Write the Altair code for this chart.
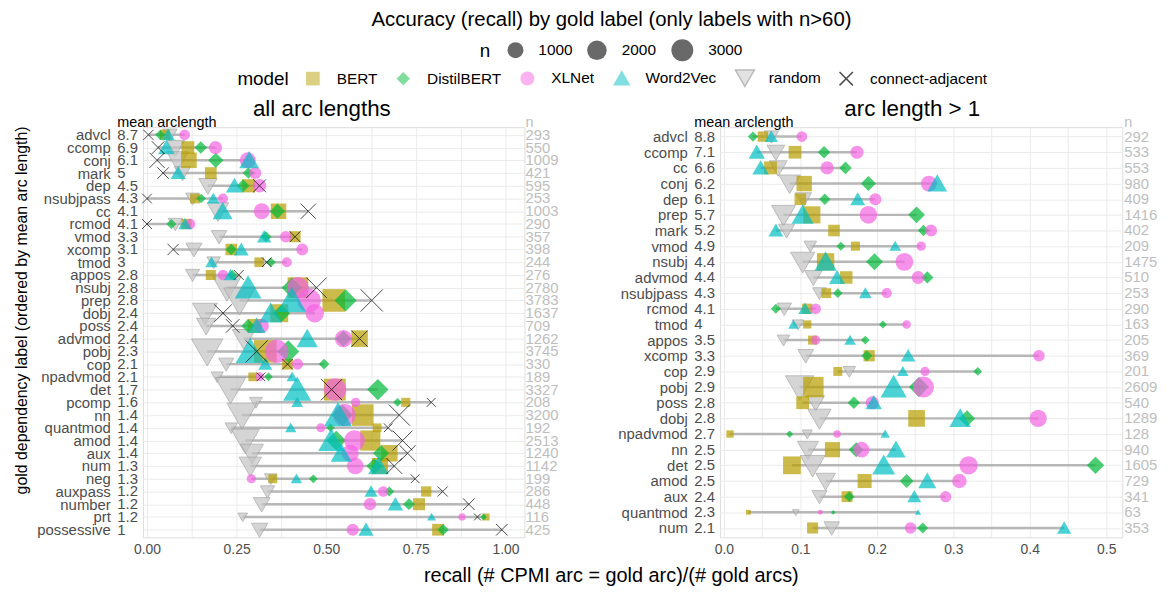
import altair as alt
import pandas as pd

MODELS = ["BERT", "DistilBERT", "XLNet", "Word2Vec", "random", "connect-adjacent"]
DRAW_ORDER = ["random", "BERT", "DistilBERT", "XLNet", "Word2Vec", "connect-adjacent"]

# ---------------- left panel: all arc lengths ----------------
left_labels = ["advcl", "ccomp", "conj", "mark", "dep", "nsubjpass", "cc", "rcmod", "vmod", "xcomp",
               "tmod", "appos", "nsubj", "prep", "dobj", "poss", "advmod", "pobj", "cop", "npadvmod",
               "det", "pcomp", "nn", "quantmod", "amod", "aux", "num", "neg", "auxpass", "number",
               "prt", "possessive"]
left_arclen = [8.7, 6.9, 6.1, 5, 4.5, 4.3, 4.1, 4.1, 3.3, 3.1, 3, 2.8, 2.8, 2.8, 2.4, 2.4, 2.4, 2.3,
               2.1, 2.1, 1.7, 1.6, 1.4, 1.4, 1.4, 1.4, 1.3, 1.3, 1.2, 1.2, 1.2, 1]
left_n = [293, 550, 1009, 421, 595, 253, 1003, 290, 357, 398, 244, 276, 2780, 3783, 1637, 709, 1262,
          3745, 330, 189, 3327, 208, 3200, 192, 2513, 1240, 1142, 199, 286, 448, 116, 425]
left_bert = [0.050, 0.114, 0.117, 0.178, 0.284, 0.134, 0.367, 0.110, 0.413, 0.235, 0.313, 0.178,
             0.421, 0.521, 0.369, 0.300, 0.593, 0.330, 0.392, 0.295, 0.524, 0.722, 0.602, 0.642,
             0.623, 0.676, 0.650, 0.351, 0.779, 0.759, 0.946, 0.812]
left_distilbert = [0.037, 0.150, 0.192, 0.283, 0.268, 0.151, 0.364, 0.068, 0.332, 0.235, 0.346, 0.238,
                   0.404, 0.554, 0.375, 0.282, 0.548, 0.394, 0.494, 0.339, 0.644, 0.699, 0.545, 0.512,
                   0.528, 0.653, 0.634, 0.464, 0.676, 0.731, 0.939, 0.826]
left_xlnet = [0.105, 0.191, 0.281, 0.302, 0.314, 0.212, 0.320, 0.120, 0.387, 0.433, 0.390, 0.212,
              0.421, 0.452, 0.468, 0.320, 0.548, 0.362, 0.420, 0.314, 0.525, 0.582, 0.551, 0.485,
              0.579, 0.567, 0.581, 0.291, 0.659, 0.622, 0.879, 0.574]
left_word2vec = [0.059, 0.054, 0.285, 0.087, 0.244, 0.185, 0.211, 0.106, 0.327, 0.263, 0.180, 0.233,
                 0.282, 0.404, 0.345, 0.306, 0.447, 0.288, 0.330, 0.405, 0.419, 0.419, 0.533, 0.401,
                 0.514, 0.542, 0.646, 0.417, 0.625, 0.693, 0.794, 0.611]
left_random = [0.064, 0.080, 0.085, 0.099, 0.170, 0.127, 0.198, 0.079, 0.201, 0.131, 0.186, 0.127,
               0.223, 0.258, 0.162, 0.165, 0.270, 0.168, 0.221, 0.196, 0.233, 0.304, 0.265, 0.235,
               0.274, 0.293, 0.288, 0.345, 0.336, 0.320, 0.267, 0.314]
left_adjacent = [0.004, 0.031, 0.028, 0.045, 0.314, 0.000, 0.450, 0.000, 0.413, 0.073, 0.334, 0.256,
                 0.473, 0.627, 0.212, 0.239, 0.593, 0.306, 0.392, 0.318, 0.515, 0.793, 0.704, 0.673,
                 0.713, 0.727, 0.690, 0.748, 0.825, 0.898, 0.922, 0.990]

# ---------------- right panel: arc length > 1 ----------------
right_labels = ["advcl", "ccomp", "cc", "conj", "dep", "prep", "mark", "vmod", "nsubj", "advmod",
                "nsubjpass", "rcmod", "tmod", "appos", "xcomp", "cop", "pobj", "poss", "dobj",
                "npadvmod", "nn", "det", "amod", "aux", "quantmod", "num"]
right_arclen = [8.8, 7.1, 6.6, 6.2, 6.1, 5.7, 5.2, 4.9, 4.4, 4.4, 4.3, 4.1, 4, 3.5, 3.3, 2.9, 2.9,
                2.8, 2.8, 2.7, 2.5, 2.5, 2.5, 2.4, 2.3, 2.1]
right_n = [292, 533, 553, 980, 409, 1416, 402, 209, 1475, 510, 253, 290, 163, 205, 369, 201, 2609,
           540, 1289, 128, 940, 1605, 729, 341, 63, 353]
right_bert = [0.051, 0.093, 0.061, 0.105, 0.100, 0.115, 0.144, 0.172, 0.133, 0.160, 0.134, 0.109,
              0.109, 0.116, 0.190, 0.149, 0.117, 0.103, 0.252, 0.008, 0.142, 0.089, 0.184, 0.161,
              0.032, 0.116]
right_distilbert = [0.038, 0.131, 0.159, 0.189, 0.132, 0.252, 0.261, 0.153, 0.197, 0.266, 0.149,
                    0.068, 0.208, 0.185, 0.187, 0.332, 0.255, 0.170, 0.318, 0.086, 0.173, 0.486,
                    0.239, 0.164, 0.143, 0.260]
right_xlnet = [0.102, 0.174, 0.135, 0.268, 0.198, 0.189, 0.271, 0.258, 0.236, 0.254, 0.213, 0.120,
               0.239, 0.120, 0.412, 0.263, 0.261, 0.194, 0.411, 0.148, 0.180, 0.320, 0.308, 0.290,
               0.126, 0.244]
right_word2vec = [0.062, 0.043, 0.048, 0.279, 0.175, 0.103, 0.068, 0.224, 0.133, 0.148, 0.185, 0.106,
                  0.091, 0.165, 0.241, 0.234, 0.222, 0.196, 0.309, 0.211, 0.225, 0.209, 0.266, 0.249,
                  0.254, 0.445]
right_random = [0.062, 0.068, 0.071, 0.086, 0.104, 0.078, 0.082, 0.113, 0.103, 0.117, 0.125, 0.079,
                0.097, 0.078, 0.107, 0.164, 0.099, 0.120, 0.125, 0.109, 0.110, 0.116, 0.133, 0.125,
                0.094, 0.141]

# ---------------- styling ----------------
FONT = "Liberation Sans"
shape_range = [
    "M-0.97,-0.97L0.97,-0.97L0.97,0.97L-0.97,0.97Z",          # BERT square
    "M0,-0.95L0.95,0L0,0.95L-0.95,0Z",                        # DistilBERT diamond
    "circle",                                                 # XLNet
    "M0,-1.17L1.25,1.0L-1.25,1.0Z",                           # Word2Vec triangle up
    "M0,1.26L1.35,-1.07L-1.35,-1.07Z",                        # random triangle down
    "M-0.95,-0.95L0.95,0.95M0.95,-0.95L-0.95,0.95",           # connect-adjacent X
]
fill_range = ["#B79F00", "#00BA38", "#F564E3", "#00BFC4", "#C4C4C4", "#000000"]
stroke_range = ["transparent", "transparent", "transparent", "transparent", "#9E9E9E", "#000000"]
opacity_range = [0.7, 0.7, 0.6, 0.6, 0.55, 0.7]


def long_table(labels, n, series):
    rows = []
    for m in DRAW_ORDER:
        if m not in series:
            continue
        for lab, nn, v in zip(labels, n, series[m]):
            rows.append({"label": lab, "model": m, "recall": v, "n": nn})
    return pd.DataFrame(rows)


def panel(labels, arclen, n, series, xdomain, width, ticks, label_test, fmt, title, title_dx,
          n_x, ytitle, xtitle):
    df = long_table(labels, n, series)
    lab_df = pd.DataFrame({"label": labels, "arclen": arclen, "n": n})
    yscale = alt.Scale(type="point", domain=labels, padding=0.6)
    xscale = alt.Scale(domain=xdomain, nice=False, zero=False)
    yaxis = alt.Axis(
        title=ytitle, labelFontSize=15, labelColor="#4D4D4D", labelPadding=33, ticks=False,
        domain=False, grid=True, gridColor="#EBEBEB", gridWidth=1, titleFontSize=16,
        titleFontWeight="normal", titleColor="#000000", titleX=-114, titleY=184,
    )
    xaxis = alt.Axis(
        title=xtitle, values=ticks, labelExpr=f"({label_test}) ? format(datum.value, '{fmt}') : ''",
        labelFontSize=14, labelColor="#4D4D4D", labelPadding=5, labelFlush=False, ticks=False,
        domain=False, grid=True, gridColor="#EBEBEB", gridWidth=1, titleFontSize=20,
        titleFontWeight="normal", titleColor="#000000", titleX=471, titleY=28,
    )
    y = alt.Y("label:N", scale=yscale, axis=yaxis)

    rule = alt.Chart(df).mark_rule(color="#ABABAB", strokeWidth=2.5, opacity=0.85).encode(
        y=y,
        x=alt.X("min(recall):Q", scale=xscale, axis=xaxis),
        x2="max(recall):Q",
    )
    pts = alt.Chart(df).mark_point(filled=True, strokeWidth=1).encode(
        y=y,
        x=alt.X("recall:Q", scale=xscale, axis=xaxis),
        shape=alt.Shape("model:N", scale=alt.Scale(domain=MODELS, range=shape_range),
                        legend=alt.Legend(title="model", orient="none", legendX=95, legendY=-58,
                                          direction="horizontal", titleOrient="left",
                                          symbolSize=200, labelFontSize=15.5, titleFontSize=19,
                                          titleFontWeight="normal", labelOffset=16,
                                          columnPadding=15, titlePadding=16)),
        fill=alt.Fill("model:N", scale=alt.Scale(domain=MODELS, range=fill_range), title="model"),
        stroke=alt.Stroke("model:N", scale=alt.Scale(domain=MODELS, range=stroke_range), title="model"),
        opacity=alt.Opacity("model:N", scale=alt.Scale(domain=MODELS, range=opacity_range), title="model"),
        size=alt.Size("n:Q", scale=alt.Scale(type="sqrt", domain=[63, 3783], range=[25, 552], zero=False),
                      legend=alt.Legend(title="n", orient="none", legendX=339, legendY=-90,
                                        direction="horizontal", titleOrient="left", values=[1000, 2000, 3000],
                                        format="d",
                                        symbolType="circle", symbolFillColor="#444444", symbolOpacity=0.8,
                                        symbolStrokeColor="transparent", labelFontSize=15.5, titleFontSize=19,
                                        titleFontWeight="normal", labelOffset=14, columnPadding=11,
                                        titlePadding=16)),
    )
    arc_txt = alt.Chart(lab_df).mark_text(align="left", baseline="middle", fontSize=15,
                                          color="#4D4D4D", font=FONT).encode(
        y=y, x=alt.value(-26), text="arclen:N")
    n_txt = alt.Chart(lab_df).mark_text(align="left", baseline="middle", fontSize=15,
                                        color="#BEBEBE", font=FONT).encode(
        y=y, x=alt.value(n_x), text="n:N")
    head1 = alt.Chart(pd.DataFrame({"t": ["mean arclength"]})).mark_text(
        align="left", baseline="middle", fontSize=14.5, color="#000000", font=FONT).encode(
        x=alt.value(-26), y=alt.value(-4), text="t:N")
    head2 = alt.Chart(pd.DataFrame({"t": ["n"]})).mark_text(
        align="left", baseline="middle", fontSize=14.5, color="#BEBEBE", font=FONT).encode(
        x=alt.value(n_x), y=alt.value(-4), text="t:N")
    return alt.layer(rule, pts, arc_txt, n_txt, head1, head2).properties(
        width=width, height=413,
        title=alt.TitleParams(title, fontSize=22.5, fontWeight="normal", anchor="middle", dx=title_dx,
                              offset=-5, color="#000000"),
    )


left = panel(
    left_labels, left_arclen, left_n,
    {"BERT": left_bert, "DistilBERT": left_distilbert, "XLNet": left_xlnet, "Word2Vec": left_word2vec,
     "random": left_random, "connect-adjacent": left_adjacent},
    [-0.011, 1.053], 384, [i * 0.125 for i in range(9)], "round(datum.value*1000) % 250 == 0", ".2f",
    "all arc lengths", -12, 385,
    "gold dependency label (ordered by mean arc length)", "recall (# CPMI arc = gold arc)/(# gold arcs)",
)
right = panel(
    right_labels, right_arclen, right_n,
    {"BERT": right_bert, "DistilBERT": right_distilbert, "XLNet": right_xlnet,
     "Word2Vec": right_word2vec, "random": right_random},
    [-0.005, 0.521], 405, [i * 0.05 for i in range(11)], "round(datum.value*1000) % 100 == 0", ".1f",
    "arc length > 1", -9, 407, None, None,
)

chart = alt.hconcat(left, right, spacing=197, bounds="flush").resolve_scale(
    x="independent", y="independent"
).properties(
    title=alt.TitleParams("Accuracy (recall) by gold label (only labels with n>60)", fontSize=20.5,
                          fontWeight="normal", anchor="middle", offset=7, dx=26, color="#000000"),
    padding={"left": 5, "top": 0, "right": 5, "bottom": 5},
).configure_view(stroke=None).configure(font=FONT)

chart.save("out.html", embed_options={"renderer": "svg", "actions": False})
